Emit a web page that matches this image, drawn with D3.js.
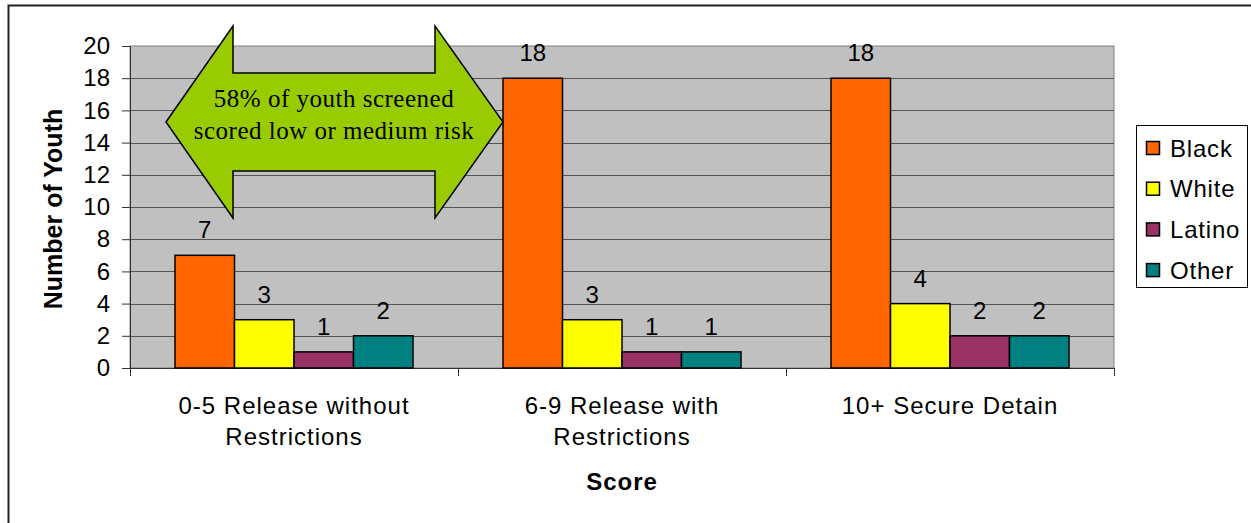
<!DOCTYPE html>
<html>
<head>
<meta charset="utf-8">
<script src="https://cdn.jsdelivr.net/npm/d3@7"></script>
<style>
  html, body { margin: 0; padding: 0; background: #fff; }
  svg { display: block; }
  text { font-family: Arial, "Liberation Sans", sans-serif; fill: #000; }
</style>
</head>
<body>
<svg id="chart" width="1251" height="523"></svg>
<script>
// Screening scores by race/ethnicity
const categories = [
  ["0-5 Release without", "Restrictions"],
  ["6-9 Release with", "Restrictions"],
  ["10+ Secure Detain"]
];
const seriesNames = ["Black", "White", "Latino", "Other"];
const seriesColors = ["#FF6600", "#FFFF00", "#993366", "#008080"];
const black  = [7, 18, 18];
const white  = [3, 3, 4];
const latino = [1, 1, 2];
const other  = [2, 1, 2];
const yTicks = [0, 2, 4, 6, 8, 10, 12, 14, 16, 18, 20];
const note = ["58% of youth screened", "scored low or medium risk"];

const seriesValues = [black, white, latino, other];

const svg = d3.select("#chart");

// outer frame
svg.append("rect")
  .attr("x", 8.5).attr("y", 5.5)
  .attr("width", 1400).attr("height", 700)
  .attr("fill", "none").attr("stroke", "#222").attr("stroke-width", 2);

const plot = { left: 130, right: 1114, top: 46, bottom: 368 };

const x = d3.scaleBand()
  .domain(d3.range(categories.length))
  .range([plot.left, plot.right])
  .padding(0);

const xs = d3.scaleBand()
  .domain(seriesNames)
  .range([45, x.bandwidth() - 45])
  .padding(0);

const y = d3.scaleLinear().domain([0, 20]).range([plot.bottom, plot.top]);

// plot background
svg.append("rect")
  .attr("x", plot.left).attr("y", plot.top)
  .attr("width", plot.right - plot.left).attr("height", plot.bottom - plot.top)
  .attr("fill", "#C0C0C0").attr("stroke", "#808080").attr("stroke-width", 1);

// gridlines
svg.append("g")
  .selectAll("line")
  .data(yTicks.filter(d => d > 0 && d < 20))
  .join("line")
  .attr("x1", plot.left).attr("x2", plot.right)
  .attr("y1", d => Math.round(y(d)) + 0.5).attr("y2", d => Math.round(y(d)) + 0.5)
  .attr("stroke", "#555").attr("stroke-width", 1);

// y axis
const yAxis = d3.axisLeft(y).tickValues(yTicks).tickSize(8).tickPadding(12);
const gy = svg.append("g").attr("transform", `translate(${plot.left},0)`).call(yAxis);
gy.select(".domain").attr("stroke", "#333");
gy.selectAll(".tick line").attr("stroke", "#333");
gy.selectAll(".tick text")
  .attr("font-size", 24).attr("font-family", "Arial, 'Liberation Sans', sans-serif")
  .attr("fill", "#000");

// x axis: ticks at category boundaries
const gx = svg.append("g").attr("transform", `translate(0,${plot.bottom})`);
gx.append("line")
  .attr("x1", plot.left).attr("x2", plot.right)
  .attr("y1", 0.5).attr("y2", 0.5)
  .attr("stroke", "#333");
gx.selectAll("line.tk")
  .data(d3.range(categories.length + 1))
  .join("line").attr("class", "tk")
  .attr("x1", i => (i < categories.length ? x(i) : plot.right) + 0.5)
  .attr("x2", i => (i < categories.length ? x(i) : plot.right) + 0.5)
  .attr("y1", 0).attr("y2", 8)
  .attr("stroke", "#333");

// category labels
const catG = gx.selectAll("g.cat")
  .data(categories)
  .join("g").attr("class", "cat")
  .attr("transform", (d, i) => `translate(${x(i) + x.bandwidth() / 2},0)`);
catG.selectAll("text")
  .data(d => d)
  .join("text")
  .attr("text-anchor", "middle")
  .attr("y", (d, j) => 46 + j * 31)
  .attr("font-size", 24)
  .attr("letter-spacing", 1)
  .text(d => d);

// axis titles
svg.append("text")
  .attr("x", (plot.left + plot.right) / 2).attr("y", 490)
  .attr("text-anchor", "middle").attr("font-size", 24).attr("font-weight", "bold")
  .attr("letter-spacing", 1)
  .text("Score");

svg.append("text")
  .attr("transform", `translate(62,${(plot.top + plot.bottom) / 2 + 2}) rotate(-90)`)
  .attr("text-anchor", "middle").attr("font-size", 25).attr("font-weight", "bold")
  .text("Number of Youth");

// bars
const groups = svg.append("g").selectAll("g")
  .data(categories)
  .join("g")
  .attr("transform", (d, i) => `translate(${x(i)},0)`);

groups.each(function (c, i) {
  const g = d3.select(this);
  const rows = seriesNames.map((s, k) => ({ s, k, v: seriesValues[k][i] }));
  g.selectAll("rect")
    .data(rows)
    .join("rect")
    .attr("x", d => xs(d.s))
    .attr("y", d => y(d.v))
    .attr("width", xs.bandwidth())
    .attr("height", d => y(0) - y(d.v))
    .attr("fill", d => seriesColors[d.k])
    .attr("stroke", "#000").attr("stroke-width", 1.5);
  g.selectAll("text")
    .data(rows)
    .join("text")
    .attr("x", d => xs(d.s) + xs.bandwidth() / 2)
    .attr("y", d => y(d.v) - 17)
    .attr("text-anchor", "middle")
    .attr("font-size", 24)
    .text(d => d.v);
});

// double-headed block arrow annotation
const ar = { x0: 166, x1: 503, xi0: 233, xi1: 435, cy: 122, shaft: 49, head: 96 };
const arrowPts = [
  [ar.x0, ar.cy],
  [ar.xi0, ar.cy - ar.head],
  [ar.xi0, ar.cy - ar.shaft],
  [ar.xi1, ar.cy - ar.shaft],
  [ar.xi1, ar.cy - ar.head],
  [ar.x1, ar.cy],
  [ar.xi1, ar.cy + ar.head],
  [ar.xi1, ar.cy + ar.shaft],
  [ar.xi0, ar.cy + ar.shaft],
  [ar.xi0, ar.cy + ar.head]
];
svg.append("path")
  .attr("d", d3.line()(arrowPts) + "Z")
  .attr("fill", "#99CC00").attr("stroke", "#000").attr("stroke-width", 1.5)
  .attr("stroke-linejoin", "miter");

svg.append("g").selectAll("text")
  .data(note)
  .join("text")
  .attr("x", 334)
  .attr("y", (d, i) => 107 + i * 32)
  .attr("text-anchor", "middle")
  .attr("font-size", 25)
  .attr("letter-spacing", 0.5)
  .style("font-family", "'Liberation Serif', 'Times New Roman', serif")
  .text(d => d);

// legend
const lg = svg.append("g").attr("transform", "translate(1136,125)");
lg.append("rect")
  .attr("x", 0.5).attr("y", 0.5).attr("width", 111).attr("height", 162)
  .attr("fill", "#fff").attr("stroke", "#000").attr("stroke-width", 1);
const li = lg.selectAll("g.item")
  .data(seriesNames)
  .join("g").attr("class", "item")
  .attr("transform", (d, i) => `translate(10,${23 + i * 40.7})`);
li.append("rect")
  .attr("x", 0.5).attr("y", -6.5).attr("width", 13).attr("height", 13)
  .attr("fill", (d, i) => seriesColors[i]).attr("stroke", "#000").attr("stroke-width", 1.5);
li.append("text")
  .attr("x", 24).attr("y", 8.5)
  .attr("font-size", 24).attr("letter-spacing", 0.8)
  .text(d => d);
</script>
</body>
</html>
